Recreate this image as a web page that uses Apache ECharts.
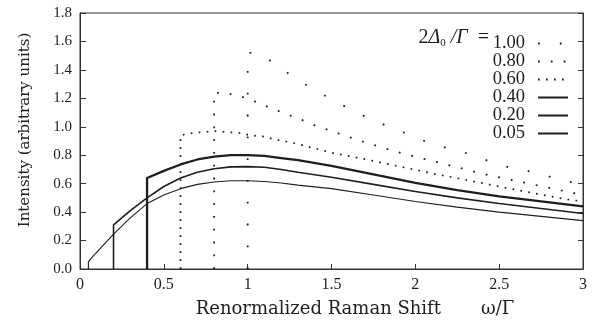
<!DOCTYPE html>
<html>
<head>
<meta charset="utf-8">
<script src="https://cdn.jsdelivr.net/npm/echarts@6/dist/echarts.min.js"></script>
<style>
  html, body { margin: 0; padding: 0; background: #fff; }
  #chart { width: 600px; height: 325px; }
</style>
</head>
<body>
<div id="chart"></div>
<script>
// Raman intensity vs renormalized shift for several gap ratios 2Δ0/Γ.
// Each curve rises vertically at its threshold ω/Γ = 2Δ0/Γ.
const gapRatios = ['1.00', '0.80', '0.60', '0.40', '0.20', '0.05'];

const curve100 = [[1.0, 0], [1.0, 1.52], [1.06, 1.52], [1.17, 1.44], [1.28, 1.34], [1.40, 1.26],
  [1.52, 1.18], [1.65, 1.10], [1.78, 1.03], [1.91, 0.97], [2.03, 0.91], [2.16, 0.86],
  [2.29, 0.82], [2.41, 0.77], [2.54, 0.72], [2.67, 0.69], [2.80, 0.65], [2.93, 0.61], [3.0, 0.59]];

const curve080 = [[0.8, 0], [0.8, 1.24], [0.88, 1.235], [1.0, 1.20], [1.06, 1.17], [1.14, 1.13],
  [1.23, 1.09], [1.32, 1.05], [1.40, 1.01], [1.5, 0.97], [1.6, 0.93], [1.7, 0.89], [1.8, 0.855],
  [1.9, 0.82], [2.0, 0.79], [2.2, 0.73], [2.4, 0.67], [2.6, 0.62], [2.8, 0.57], [3.0, 0.52]];

const curve060 = [[0.6, 0], [0.6, 0.94], [0.64, 0.95], [0.70, 0.96], [0.76, 0.965], [0.81, 0.97],
  [0.85, 0.965], [0.97, 0.955], [1.01, 0.94], [1.11, 0.93], [1.16, 0.91], [1.26, 0.89],
  [1.36, 0.86], [1.51, 0.815], [1.71, 0.77], [1.91, 0.72], [2.11, 0.67], [2.31, 0.625],
  [2.5, 0.58], [2.7, 0.535], [2.9, 0.49], [3.0, 0.475]];

const curve040 = [[0.4, 0], [0.4, 0.64], [0.5, 0.69], [0.6, 0.735], [0.7, 0.77], [0.8, 0.79],
  [0.9, 0.80], [1.0, 0.80], [1.1, 0.795], [1.2, 0.78], [1.3, 0.765], [1.5, 0.725], [1.75, 0.665],
  [2.0, 0.605], [2.25, 0.555], [2.5, 0.51], [2.75, 0.475], [3.0, 0.44]];

const curve020 = [[0.2, 0], [0.2, 0.31], [0.3, 0.41], [0.4, 0.50], [0.5, 0.58], [0.6, 0.64],
  [0.7, 0.68], [0.8, 0.705], [0.9, 0.718], [1.0, 0.72], [1.1, 0.715], [1.2, 0.70], [1.3, 0.68],
  [1.5, 0.645], [1.75, 0.595], [2.0, 0.545], [2.25, 0.50], [2.5, 0.46], [2.75, 0.425], [3.0, 0.39]];

const curve005 = [[0.05, 0], [0.05, 0.05], [0.07, 0.08], [0.2, 0.245], [0.3, 0.36], [0.4, 0.46],
  [0.5, 0.52], [0.6, 0.565], [0.7, 0.595], [0.8, 0.612], [0.9, 0.62], [1.0, 0.62], [1.1, 0.615],
  [1.2, 0.605], [1.3, 0.59], [1.5, 0.565], [1.75, 0.52], [2.0, 0.475], [2.25, 0.435], [2.5, 0.40],
  [2.75, 0.37], [3.0, 0.34]];

const xTickLabels = ['0', '0.5', '1', '1.5', '2', '2.5', '3'];
const yTickLabels = ['0.0', '0.2', '0.4', '0.6', '0.8', '1.0', '1.2', '1.4', '1.6', '1.8'];

const ink = '#1e1e1e';
const serif = '"Liberation Serif", "Times New Roman", serif';
const wideSerif = '"DejaVu Serif", serif';

const curves = [curve100, curve080, curve060, curve040, curve020, curve005];
const styles = [
  { width: 1.8, type: [1.8, 20] },
  { width: 1.8, type: [1.8, 11] },
  { width: 1.7, type: [1.7, 6.3] },
  { width: 2.3, type: 'solid' },
  { width: 1.6, type: 'solid' },
  { width: 1.1, type: 'solid' }
];

const chart = echarts.init(document.getElementById('chart'), null, { renderer: 'canvas' });

chart.setOption({
  backgroundColor: '#fff',
  animation: false,
  color: [ink],
  grid: { left: 80, right: 17, top: 13, bottom: 56, show: true, borderColor: '#333', borderWidth: 1 },
  xAxis: {
    type: 'value', min: 0, max: 3, interval: 0.5,
    axisLine: { show: true, lineStyle: { color: '#333', width: 1 } },
    axisTick: { inside: true, length: 5, lineStyle: { color: '#333' } },
    splitLine: { show: false },
    axisLabel: {
      margin: 8, color: ink, fontFamily: serif, fontSize: 16,
      formatter: v => xTickLabels[Math.round(v * 2)]
    },
    name: 'Renormalized Raman Shift       ω/Γ',
    nameLocation: 'middle', nameGap: 31,
    nameTextStyle: { color: ink, fontFamily: wideSerif, fontSize: 18, padding: [0, 0, 0, 47] }
  },
  yAxis: [{
    type: 'value', min: 0, max: 1.8, interval: 0.2,
    axisLine: { show: true, lineStyle: { color: '#333', width: 1 } },
    axisTick: { inside: true, length: 6, lineStyle: { color: '#333' } },
    splitLine: { show: false },
    axisLabel: {
      margin: 8, color: ink, fontFamily: serif, fontSize: 15,
      formatter: v => yTickLabels[Math.round(v * 5)]
    },
    name: 'Intensity (arbitrary units)',
    nameLocation: 'middle', nameGap: 47,
    nameTextStyle: { color: ink, fontFamily: wideSerif, fontSize: 15, padding: [0, 0, 0, 22] }
  }, {
    type: 'value', min: 0, max: 1.8, interval: 0.2, position: 'right',
    axisLine: { show: true, lineStyle: { color: '#333', width: 1 } },
    axisTick: { inside: true, length: 5, lineStyle: { color: '#333' } },
    axisLabel: { show: false },
    splitLine: { show: false }
  }],
  legend: {
    data: gapRatios,
    orient: 'vertical',
    align: 'right',
    right: 26, top: 29,
    itemWidth: 30, itemHeight: 10, itemGap: -1,
    selectedMode: false,
    itemStyle: { color: 'rgba(0,0,0,0)', borderColor: 'rgba(0,0,0,0)', borderWidth: 0 },
    textStyle: { color: ink, fontFamily: serif, fontSize: 18.5, lineHeight: 17, padding: [0, 8, 0, 0] }
  },
  graphic: [{
    type: 'text',
    x: 489, y: 38,
    style: {
      text: '{n|2}{i|Δ}{s|0}{n| }{i|/}{i|Γ}{n|  =}',
      align: 'right', verticalAlign: 'middle',
      fill: ink,
      rich: {
        n: { fontFamily: serif, fontSize: 20, lineHeight: 22, fill: ink },
        i: { fontFamily: serif, fontSize: 20, fontStyle: 'italic', lineHeight: 22, fill: ink },
        s: { fontFamily: serif, fontSize: 11, lineHeight: 22, verticalAlign: 'bottom', fill: ink }
      }
    }
  }],
  series: curves.map((pts, k) => ({
    name: gapRatios[k],
    type: 'line',
    data: pts,
    showSymbol: false,
    symbol: 'none',
    smooth: false,
    silent: true,
    itemStyle: { color: ink },
    lineStyle: { color: ink, width: styles[k].width, type: styles[k].type, cap: 'butt' },
    z: 3
  }))
});
</script>
</body>
</html>
